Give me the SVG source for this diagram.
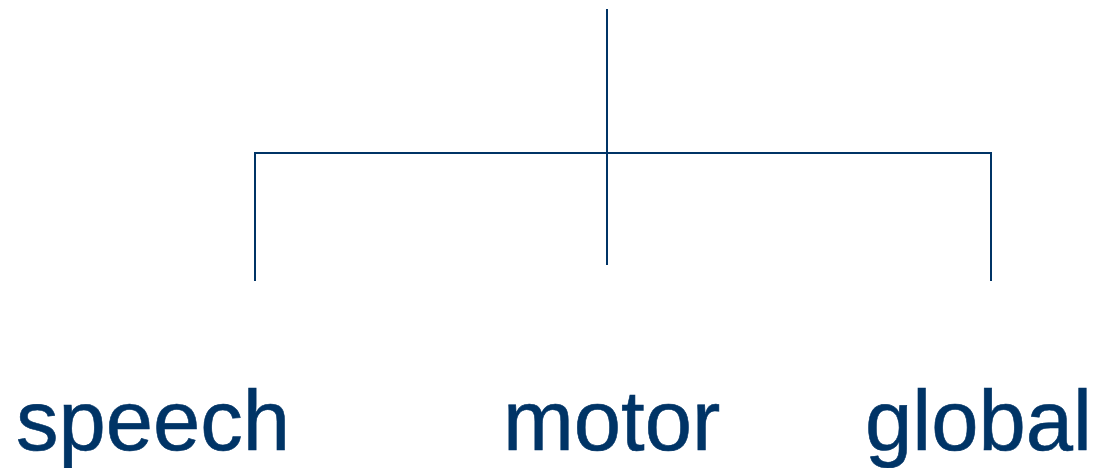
<svg xmlns="http://www.w3.org/2000/svg" width="1096" height="468" viewBox="0 0 1096 468">
<style>
.ln{stroke:#003466;stroke-width:2;fill:none}
.lbl{font-family:"Liberation Sans",Arial,sans-serif;font-size:85px;fill:#003466;stroke:#003466;stroke-width:0.6}
</style>
<rect width="1096" height="468" fill="#ffffff"/>
<g id="connectors">
<line class="ln" x1="607" y1="9" x2="607" y2="265"/>
<line class="ln" x1="255" y1="153" x2="991" y2="153"/>
<line class="ln" x1="255" y1="152" x2="255" y2="281"/>
<line class="ln" x1="991" y1="152" x2="991" y2="281"/>
</g>
<g id="speech"><text class="lbl" x="16" y="450">speech</text></g>
<g id="motor"><text class="lbl" x="503" y="450">motor</text></g>
<g id="global"><text class="lbl" x="865" y="450">global</text></g>
</svg>
